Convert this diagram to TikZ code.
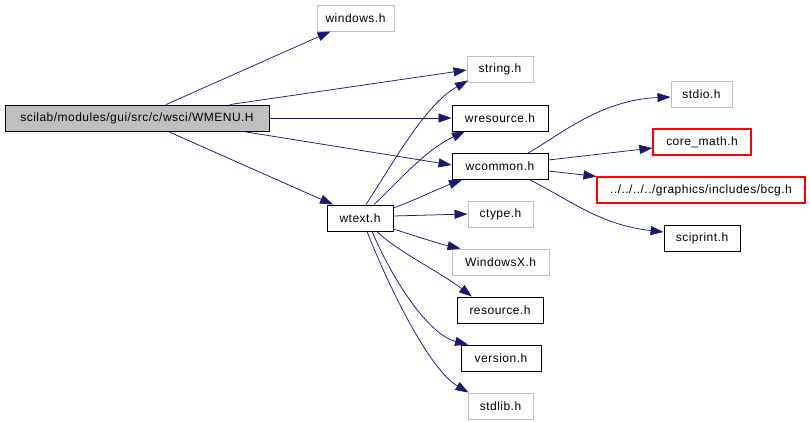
\documentclass[tikz,border=0pt]{standalone}
\usepackage{fontspec}
\setmainfont[LetterSpace=4]{Liberation Sans}
\usetikzlibrary{arrows.meta}
\definecolor{edgec}{HTML}{191970}
\definecolor{grayb}{HTML}{BFBFBF}
\definecolor{redb}{HTML}{FF0000}
\begin{document}
\begin{tikzpicture}[x=1pt,y=-1pt,
  box/.style={draw=black, minimum height=26pt, inner sep=0pt, font=\fontsize{12pt}{14pt}\selectfont, line width=0.9pt},
  gbox/.style={box, draw=grayb},
  rbox/.style={box, draw=redb, line width=1.1pt},
  edge/.style={draw=edgec, line width=0.75pt, -{Triangle[length=13pt,width=9pt]}}]
\useasboundingbox (0,0) rectangle (810,422);
\node[box, fill=grayb, minimum width=264pt] (wmenu) at (137,118) {scilab/modules/gui/src/c/wsci/WMENU.H};
\node[gbox, minimum width=77pt] (windows) at (355.5,18) {windows.h};
\node[gbox, minimum width=66pt] (string) at (500,69) {string.h};
\node[box, minimum width=96pt] (wresource) at (500,118) {wresource.h};
\node[box, minimum width=96pt] (wcommon) at (500,166.5) {wcommon.h};
\node[box, minimum width=66pt] (wtext) at (360,218) {wtext.h};
\node[gbox, minimum width=61pt] (stdio) at (701.5,94.5) {stdio.h};
\node[rbox, minimum width=98pt] (coremath) at (702,142) {core\_math.h};
\node[rbox, minimum width=208pt] (bcg) at (701,190) {../../../../graphics/includes/bcg.h};
\node[box, minimum width=76pt] (sciprint) at (702,238) {sciprint.h};
\node[gbox, minimum width=65pt] (ctype) at (500.5,214) {ctype.h};
\node[gbox, minimum width=97pt] (windowsx) at (500.5,262) {WindowsX.h};
\node[box, minimum width=86pt] (resource) at (500,310) {resource.h};
\node[box, minimum width=80pt] (version) at (501,358) {version.h};
\node[gbox, minimum width=65pt] (stdlib) at (500.5,406) {stdlib.h};

% from WMENU
\draw[edge] ([xshift=29pt]wmenu.north) -- ([xshift=-25pt]windows.south);
\draw[edge] ([xshift=93pt]wmenu.north) -- ([yshift=-1pt]string.west);
\draw[edge] (wmenu.east) -- (wresource.west);
\draw[edge] ([xshift=106pt]wmenu.south) -- ([yshift=1.5pt]wcommon.west);
\draw[edge] ([xshift=31pt]wmenu.south) -- ([xshift=-27pt]wtext.north);
% from wtext
\draw[edge] ([xshift=6pt]wtext.north) .. controls (395,160) and (425,105) .. ([xshift=-32pt,yshift=2pt]string.south);
\draw[edge] ([xshift=14pt]wtext.north) .. controls (395,185) and (425,150) .. ([xshift=-35pt]wresource.south);
\draw[edge] ([yshift=10pt]wtext.east) .. controls (415,200) and (440,188) .. ([xshift=-38pt]wcommon.south);
\draw[edge] ([yshift=2pt]wtext.east) -- (ctype.west);
\draw[edge] ([yshift=-11pt]wtext.east) .. controls (415,236) and (440,244) .. ([xshift=-40pt]windowsx.north);
\draw[edge] ([xshift=17pt]wtext.south) .. controls (395,250) and (440,272) .. ([xshift=-28pt]resource.north);
\draw[edge] ([xshift=12pt]wtext.south) .. controls (395,285) and (430,335) .. ([xshift=-33pt]version.north);
\draw[edge] ([xshift=7pt]wtext.south) .. controls (390,290) and (430,370) .. ([xshift=-32pt]stdlib.north);
% from wcommon
\draw[edge] ([xshift=28pt]wcommon.north) .. controls (560,135) and (600,100) .. ([yshift=-2.5pt]stdio.west);
\draw[edge] ([yshift=6.5pt]wcommon.east) -- ([yshift=-6pt]coremath.west);
\draw[edge] ([yshift=-4.5pt]wcommon.east) -- (bcg.north west);
\draw[edge] ([xshift=30pt]wcommon.south) .. controls (570,200) and (600,225) .. ([yshift=6pt]sciprint.west);
\end{tikzpicture}
\end{document}
